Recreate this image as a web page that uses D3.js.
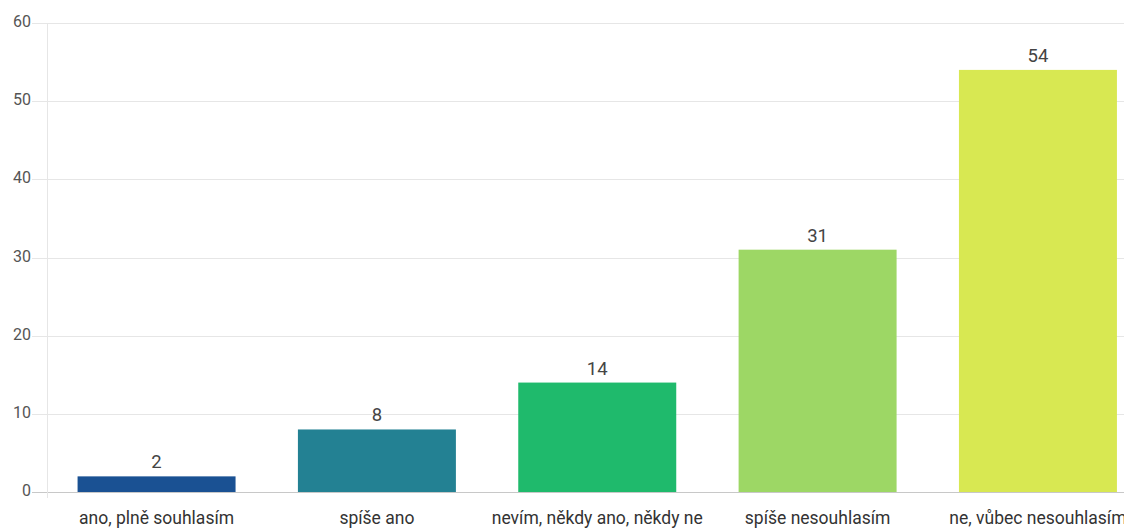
<!DOCTYPE html>
<html><head><meta charset="utf-8">
<script src="https://cdn.jsdelivr.net/npm/d3@7"></script>
<style>body{margin:0;background:#fff;}svg{display:block;font-family:Roboto,"Noto Sans",Arial,sans-serif;}</style>
</head><body>
<svg id="c" width="1124" height="529"></svg>
<script>
const categories = ["ano, plně souhlasím","spíše ano","nevím, někdy ano, někdy ne","spíše nesouhlasím","ne, vůbec nesouhlasím"];
const values = [2, 8, 14, 31, 54];
const colors = ["#1a5193","#238193","#1fba6c","#9dd765","#d8e852"];
const yTicks = [0,10,20,30,40,50,60];

const svg = d3.select("#c");
const x = d3.scaleBand().domain(categories).range([46.5, 1148]).paddingInner(0.283).paddingOuter(0.141);
const y = d3.scaleLinear().domain([0,60]).range([492, 23]);

// gridlines
svg.append("g").selectAll("line").data(yTicks).join("line")
  .attr("x1", 32).attr("x2", 1124)
  .attr("y1", d=>Math.round(y(d))+0.5).attr("y2", d=>Math.round(y(d))+0.5)
  .attr("stroke", d=> d===0 ? "#c8c8c8" : "#e6e6e6").attr("stroke-width",1);
// vertical axis line
svg.append("line").attr("x1",47.5).attr("x2",47.5).attr("y1",y(60)).attr("y2",y(0)+6)
  .attr("stroke","#e6e6e6");
// tick labels
svg.append("g").selectAll("text").data(yTicks).join("text")
  .attr("x", 31).attr("y", d=>y(d)+4)
  .attr("text-anchor","end").attr("font-size",16).attr("fill","#555")
  .text(d=>d);
// bars
svg.append("g").selectAll("rect").data(values).join("rect")
  .attr("x",(d,i)=>x(categories[i])).attr("width",x.bandwidth())
  .attr("y",d=>y(d)).attr("height",d=>y(0)-y(d))
  .attr("fill",(d,i)=>colors[i]);
// value labels
svg.append("g").selectAll("text").data(values).join("text")
  .attr("x",(d,i)=>x(categories[i])+x.bandwidth()/2).attr("y",d=>y(d)-8)
  .attr("text-anchor","middle").attr("font-size",18.5).attr("fill","#444")
  .text(d=>d);
// category labels
svg.append("g").selectAll("text").data(categories).join("text")
  .attr("x",d=>x(d)+x.bandwidth()/2).attr("y",524)
  .attr("text-anchor","middle").attr("font-size",17.5).attr("fill","#333")
  .text(d=>d);
</script>
</body></html>
